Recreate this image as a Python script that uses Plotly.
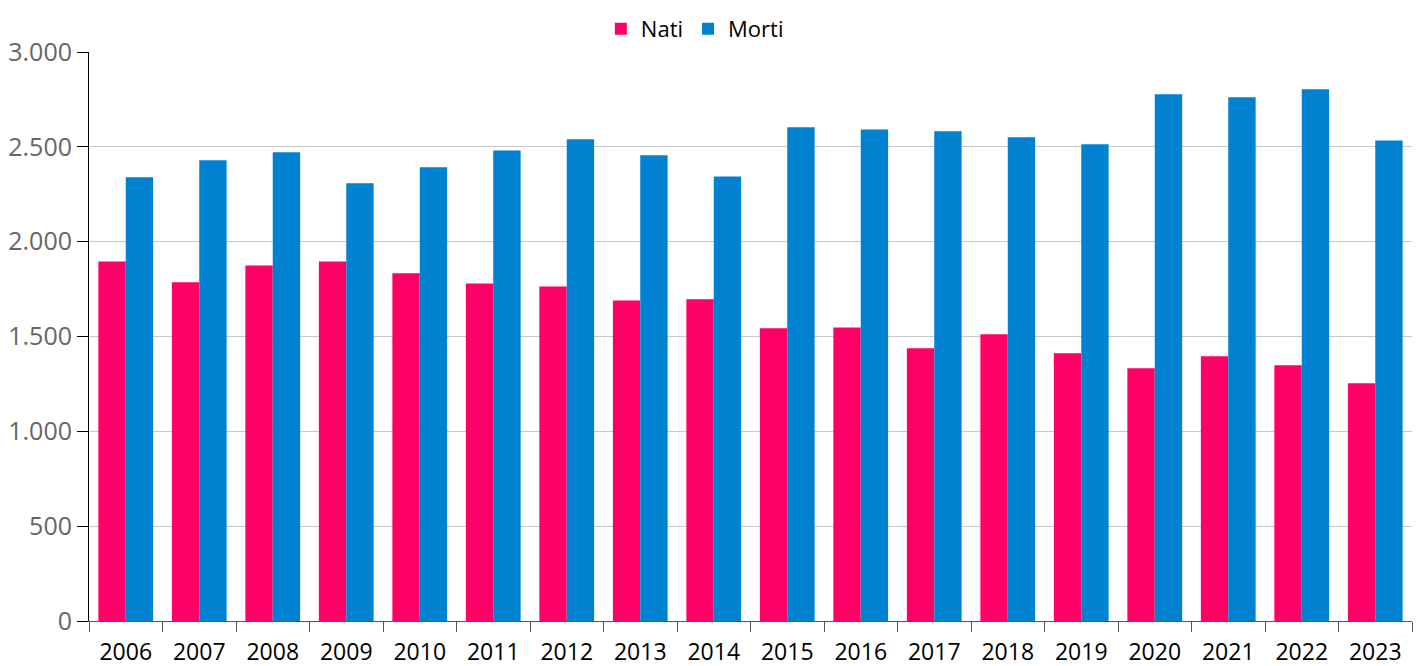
import plotly.graph_objects as go

years = ["2006", "2007", "2008", "2009", "2010", "2011", "2012", "2013", "2014",
         "2015", "2016", "2017", "2018", "2019", "2020", "2021", "2022", "2023"]
nati = [1896, 1786, 1875, 1896, 1833, 1780, 1764, 1690, 1696,
        1543, 1548, 1438, 1512, 1412, 1333, 1396, 1349, 1254]
morti = [2339, 2429, 2471, 2308, 2392, 2481, 2540, 2455, 2344,
         2603, 2592, 2582, 2550, 2513, 2777, 2761, 2803, 2534]
y_ticks = [0, 500, 1000, 1500, 2000, 2500, 3000]
y_labels = ["0", "500", "1.000", "1.500", "2.000", "2.500", "3.000"]

FONT = "Open Sans"

fig = go.Figure()
fig.add_trace(go.Bar(name="Nati", x=years, y=nati, marker_color="#FF0066",
                     marker_line_width=0))
fig.add_trace(go.Bar(name="Morti", x=years, y=morti, marker_color="#0082D1",
                     marker_line_width=0))

fig.update_layout(
    width=1425, height=666,
    barmode="group", bargap=0.255, bargroupgap=0,
    plot_bgcolor="white", paper_bgcolor="white",
    margin=dict(l=81, r=21, t=44, b=53, pad=0, autoexpand=False),
    font=dict(family=FONT, size=22, color="#000000"),
    legend=dict(orientation="h", xref="container", x=0.482, xanchor="center",
                yref="container", y=1.0, yanchor="top", maxheight=120,
                bgcolor="white", font=dict(family=FONT, size=22, color="#000000"),
                itemwidth=30, traceorder="normal"),
    xaxis=dict(type="category", showgrid=False, showline=True,
               linecolor="#555555", linewidth=1,
               ticks="outside", tickson="boundaries", ticklen=10,
               tickcolor="#555555", tickwidth=1, ticklabelstandoff=10,
               tickfont=dict(family=FONT, size=23, color="#000000")),
    yaxis=dict(range=[0, 3000], tickvals=y_ticks, ticktext=y_labels,
               showgrid=True, gridcolor="#C8C8C8", gridwidth=1,
               showline=True, linecolor="#000000", linewidth=1,
               ticks="outside", ticklen=11, tickcolor="#000000",
               tickfont=dict(family=FONT, size=25, color="#666666"),
               zeroline=False),
)

fig.write_html("out.html")
